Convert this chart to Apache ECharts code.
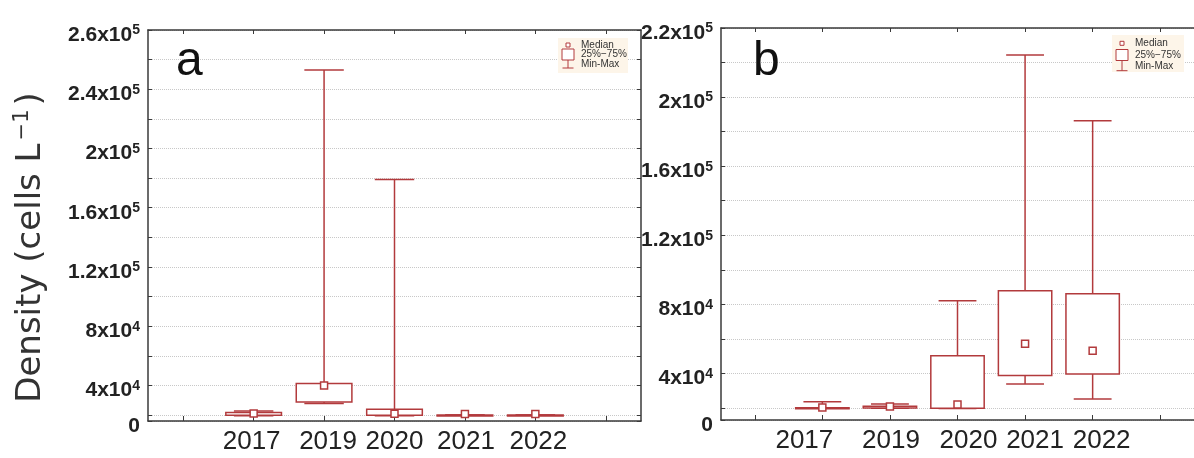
<!DOCTYPE html>
<html><head><meta charset="utf-8">
<script src="https://cdn.jsdelivr.net/npm/echarts@6/dist/echarts.min.js"></script>
<style>html,body{margin:0;padding:0;background:#fff}#c{width:1194px;height:458px}</style>
</head><body><div id="c"></div>
<script>
// ---------- data ----------
const categories = ['', '2017', '2019', '2020', '2021', '2022', ' '];
const years = ['2017', '2019', '2020', '2021', '2022'];

// panel a (cells L-1)
const aMin    = [19500, 27800, 19600, 19800, 19800];
const aQ1     = [19800, 28800, 19800, 19900, 19900];
const aMedian = [21100, 40000, 20900, 20700, 20700];
const aQ3     = [21800, 41400, 24000, 20100, 20100];
const aMax    = [22700, 253000, 179000, 20100, 20100];

// panel b (cells L-1)
const bMin    = [19800, 19800, 19600, 33900, 25200];
const bQ1     = [19900, 20000, 19800, 38700, 39600];
const bMedian = [20300, 20800, 22000, 57200, 53100];
const bQ3     = [20100, 21000, 50200, 87800, 86100];
const bMax    = [23600, 22300, 82000, 224400, 186300];

// tick labels as printed on the figure
const aTickLabels = ['0', '4x10^4', '8x10^4', '1.2x10^5', '1.6x10^5', '2x10^5', '2.4x10^5', '2.6x10^5'];
const bTickLabels = ['0', '4x10^4', '8x10^4', '1.2x10^5', '1.6x10^5', '2x10^5', '2.2x10^5'];
const legendLabels = ['Median', '25%\u221275%', 'Min-Max'];

// ---------- styling ----------
const RED = '#b23a3c';
const AXIS = '#3a3a3a';
const FONT = 'Liberation Sans';

const aRange = [16000, 280000];
const bRange = [13000, 240000];
// horizontal nudges (px) of the printed year labels relative to their ticks
const aLabelShift = [0, -2, 4, 0, 1, 3, 0];
const bLabelShift = [0, -18, 1, 11, 10, 9, 0];

function makeFormatter(labels, range) {
  return function (v) {
    let t = null;
    if (v <= range[0] + 1) t = labels[0];
    else if (v >= range[1] - 1) t = labels[labels.length - 1];
    else if (v % 40000 === 0) t = labels[v / 40000];
    if (!t) return '';
    const m = t.split('^');
    return m.length > 1 ? '{b|' + m[0] + '}{s|' + m[1] + '}' : '{b|' + t + '}';
  };
}

const yRich = {
  b: { fontSize: 21, fontWeight: 'bold', color: '#222', fontFamily: FONT },
  s: { fontSize: 14, fontWeight: 'bold', color: '#222', fontFamily: FONT, padding: [0, 0, 9, 0] }
};

function yAxisMain(grid, range, labels, withName) {
  const ax = {
    type: 'value', gridIndex: grid, min: range[0], max: range[1],
    splitNumber: Math.round((range[1] - range[0]) / 20000),
    minInterval: 20000, maxInterval: 20000,
    axisLine: { show: true, lineStyle: { color: AXIS, width: 1.5 } },
    axisTick: { show: true, inside: true, length: 4, lineStyle: { color: AXIS } },
    splitLine: { show: true, lineStyle: { color: '#c8c8c8', type: 'dotted', width: 1 } },
    axisLabel: {
      show: true, margin: 8, showMinLabel: true, showMaxLabel: true,
      padding: [10, 0, 0, 0],
      formatter: makeFormatter(labels, range), rich: yRich
    }
  };
  if (withName) {
    ax.name = 'Density (cells L{sup|\u22121})';
    ax.nameLocation = 'middle';
    ax.nameRotate = 90;
    ax.nameGap = 97;
    ax.nameTextStyle = {
      fontSize: 34, fontFamily: 'DejaVu Sans', color: '#333', padding: [0, 44, 0, 0],
      rich: { sup: { fontSize: 21, fontFamily: 'DejaVu Sans', color: '#333', padding: [0, 4, 18, 3] } }
    };
  }
  return ax;
}
function yAxisMirror(grid, range) {
  return {
    type: 'value', gridIndex: grid, position: 'right', min: range[0], max: range[1],
    splitNumber: Math.round((range[1] - range[0]) / 20000),
    minInterval: 20000, maxInterval: 20000,
    axisLine: { show: true, lineStyle: { color: AXIS, width: 1.5 } },
    axisTick: { show: true, inside: true, length: 4, lineStyle: { color: AXIS } },
    splitLine: { show: false }, axisLabel: { show: false }
  };
}
function xAxisMain(grid, shifts) {
  const rich = {};
  shifts.forEach((d, i) => {
    rich['t' + i] = { fontSize: 26, fontFamily: FONT, color: '#222',
      padding: [0, d < 0 ? -2 * d : 0, 0, d > 0 ? 2 * d : 0] };
  });
  return {
    type: 'category', gridIndex: grid, data: categories, boundaryGap: true,
    axisLine: { show: true, lineStyle: { color: AXIS, width: 1.5 } },
    axisTick: { show: true, inside: true, length: 5, alignWithLabel: true, lineStyle: { color: AXIS } },
    axisLabel: { margin: 8, fontSize: 26, fontFamily: FONT, color: '#222', interval: 0,
      formatter: (v, i) => (v.trim() ? '{t' + i + '|' + v + '}' : ''), rich: rich },
    splitLine: { show: false }
  };
}
function xAxisMirror(grid) {
  return {
    type: 'category', gridIndex: grid, data: categories, position: 'top', boundaryGap: true,
    axisLine: { show: true, lineStyle: { color: AXIS, width: 1.5 } },
    axisTick: { show: true, inside: true, length: 4, alignWithLabel: true, lineStyle: { color: AXIS } },
    axisLabel: { show: false }, splitLine: { show: false }
  };
}

// ---------- custom renderers ----------
function whiskerItem(params, api) {
  const x = api.value(0);
  const band = api.size([1, 0])[0];
  const cw = band * 0.56 / 2;
  const pMin = api.coord([x, api.value(1)]);
  const pQ1 = api.coord([x, api.value(2)]);
  const pQ3 = api.coord([x, api.value(3)]);
  const pMax = api.coord([x, api.value(4)]);
  const st = { stroke: RED, lineWidth: 1.5, fill: null };
  return { type: 'group', children: [
    { type: 'line', shape: { x1: pMax[0], y1: pMax[1], x2: pQ3[0], y2: pQ3[1] }, style: st },
    { type: 'line', shape: { x1: pMin[0], y1: pMin[1], x2: pQ1[0], y2: pQ1[1] }, style: st },
    { type: 'line', shape: { x1: pMax[0] - cw, y1: pMax[1], x2: pMax[0] + cw, y2: pMax[1] }, style: st },
    { type: 'line', shape: { x1: pMin[0] - cw, y1: pMin[1], x2: pMin[0] + cw, y2: pMin[1] }, style: st }
  ]};
}
function boxItem(params, api) {
  const x = api.value(0);
  const band = api.size([1, 0])[0];
  const bw = band * 0.79;
  const p1 = api.coord([x, api.value(1)]);
  const p3 = api.coord([x, api.value(2)]);
  return { type: 'rect',
    shape: { x: p1[0] - bw / 2, y: Math.min(p1[1], p3[1]), width: bw, height: Math.max(1, Math.abs(p1[1] - p3[1])) },
    style: { fill: '#fff', stroke: RED, lineWidth: 1.5 } };
}
function medianItem(params, api) {
  const p = api.coord([api.value(0), api.value(1)]);
  const s = 7;
  return { type: 'rect', shape: { x: p[0] - s / 2, y: p[1] - s / 2, width: s, height: s },
    style: { fill: '#fff', stroke: RED, lineWidth: 1.5 } };
}

function panelSeries(xi, yi, mn, q1, md, q3, mx) {
  return [
    { type: 'custom', name: 'Min-Max', xAxisIndex: xi, yAxisIndex: yi, renderItem: whiskerItem, z: 2,
      encode: { x: 0, y: [1, 2, 3, 4] },
      data: years.map((y, i) => [i + 1, mn[i], q1[i], q3[i], mx[i]]) },
    { type: 'custom', name: '25%\u221275%', xAxisIndex: xi, yAxisIndex: yi, renderItem: boxItem, z: 3,
      encode: { x: 0, y: [1, 2] },
      data: years.map((y, i) => [i + 1, q1[i], q3[i]]) },
    { type: 'custom', name: 'Median', xAxisIndex: xi, yAxisIndex: yi, renderItem: medianItem, z: 4,
      encode: { x: 0, y: 1 },
      data: years.map((y, i) => [i + 1, md[i]]) }
  ];
}

// legend drawn as a small key (icons + real text)
function legendKey(x0, y0, w, h, rows) {
  const st = { stroke: RED, lineWidth: 1, fill: null };
  const ix = x0 + 10;   // icon centre x
  const tx = x0 + 23;   // text start
  return [
    { type: 'rect', shape: { x: x0, y: y0, width: w, height: h }, style: { fill: '#fdf5e9' }, z: 10 },
    { type: 'rect', shape: { x: ix - 2, y: rows[0] - 2, width: 4, height: 4 }, style: { stroke: RED, lineWidth: 1, fill: '#fff' }, z: 11 },
    { type: 'rect', shape: { x: ix - 6, y: rows[1] - 5.5, width: 12, height: 11 }, style: { stroke: RED, lineWidth: 1, fill: '#fff' }, z: 11 },
    { type: 'line', shape: { x1: ix, y1: rows[1] + 5.5, x2: ix, y2: rows[2] + 4 }, style: st, z: 11 },
    { type: 'line', shape: { x1: ix - 5.5, y1: rows[2] + 4, x2: ix + 5.5, y2: rows[2] + 4 }, style: st, z: 11 },
    ...legendLabels.map((t, i) => ({ type: 'text', x: tx, y: rows[i], z: 11,
      style: { text: t, fontSize: 10, fontFamily: FONT, fill: '#333', verticalAlign: 'middle', align: 'left' } }))
  ];
}

const chart = echarts.init(document.getElementById('c'), null, { renderer: 'canvas' });
chart.setOption({
  animation: false,
  backgroundColor: '#fff',
  title: [
    { text: 'a', left: 176, top: 38, padding: 0, textStyle: { fontSize: 48, fontWeight: 'normal', color: '#111', fontFamily: FONT } },
    { text: 'b', left: 753, top: 38, padding: 0, textStyle: { fontSize: 48, fontWeight: 'normal', color: '#111', fontFamily: FONT } }
  ],
  grid: [
    { left: 148, top: 30, width: 493, height: 391, containLabel: false },
    { left: 721, top: 28, width: 474, height: 392, containLabel: false }
  ],
  xAxis: [xAxisMain(0, aLabelShift), xAxisMirror(0), xAxisMain(1, bLabelShift), xAxisMirror(1)],
  yAxis: [yAxisMain(0, aRange, aTickLabels, true), yAxisMirror(0, aRange), yAxisMain(1, bRange, bTickLabels, false)],
  series: [
    ...panelSeries(0, 0, aMin, aQ1, aMedian, aQ3, aMax),
    ...panelSeries(2, 2, bMin, bQ1, bMedian, bQ3, bMax)
  ],
  graphic: [
    ...legendKey(558, 38, 70, 35, [45, 54.5, 64]),
    ...legendKey(1112, 35, 72, 37, [43.3, 55, 66.7])
  ]
});
</script>
</body></html>
